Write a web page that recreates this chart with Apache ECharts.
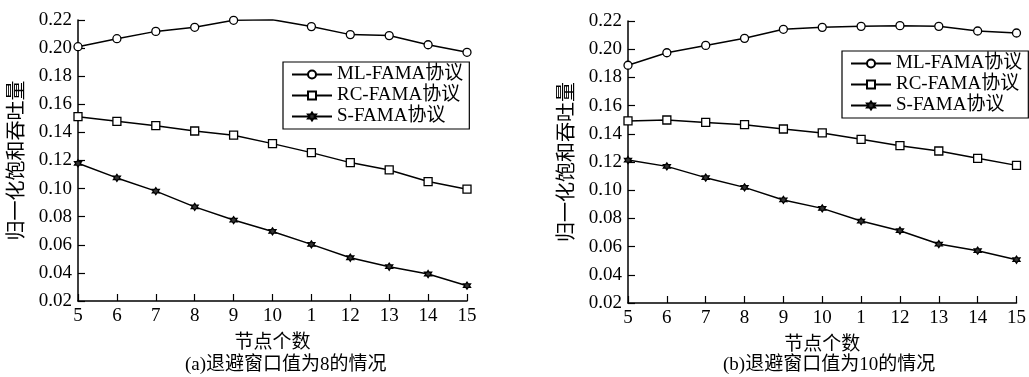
<!DOCTYPE html>
<html>
<head>
<meta charset="utf-8">
<script src="https://cdn.jsdelivr.net/npm/echarts@6/dist/echarts.min.js"></script>
<style>
  html, body { margin: 0; padding: 0; background: #fff; }
  #chart { width: 1029px; height: 377px; }
</style>
</head>
<body>
<div id="chart"></div>
<script>
// 横轴：节点个数（原图第 7 个刻度就印成了 "1"）
const nodeLabels = ['5', '6', '7', '8', '9', '10', '1', '12', '13', '14', '15'];
const yTicks = { min: 0.02, max: 0.22, step: 0.02 };

// (a) 退避窗口值为 8
const mlA = [0.201, 0.2067, 0.2119, 0.2148, 0.2198, 0.2202, 0.2153, 0.2096, 0.2089, 0.2024, 0.197];
const rcA = [0.1512, 0.1479, 0.1448, 0.141, 0.138, 0.132, 0.1256, 0.1185, 0.1133, 0.105, 0.0996];
const sA  = [0.118, 0.1076, 0.0982, 0.087, 0.0776, 0.0695, 0.0603, 0.0508, 0.0444, 0.0392, 0.0309];

// (b) 退避窗口值为 10
const mlB = [0.1886, 0.1975, 0.2027, 0.2077, 0.2141, 0.2155, 0.2162, 0.2167, 0.2162, 0.2129, 0.2115];
const rcB = [0.1491, 0.1498, 0.1481, 0.1465, 0.1434, 0.1406, 0.1361, 0.1316, 0.1278, 0.1226, 0.1176];
const sB  = [0.1214, 0.1169, 0.1089, 0.102, 0.0931, 0.0871, 0.0781, 0.0713, 0.0618, 0.0571, 0.0507];

const seriesNames = ['ML-FAMA协议', 'RC-FAMA协议', 'S-FAMA协议'];

const FONT = '"Liberation Serif", "Times New Roman", "Noto Sans CJK SC", serif';
// 六角星标记
const starPath = 'path://M0,-10 L2.9,-5 L8.7,-5 L5.8,0 L8.7,5 L2.9,5 L0,10 L-2.9,5 L-8.7,5 L-5.8,0 L-8.7,-5 L-2.9,-5 Z';

const mkX = (gridIndex) => ({
  type: 'category',
  gridIndex,
  data: nodeLabels,
  boundaryGap: false,
  name: '节点个数',
  nameLocation: 'middle',
  nameGap: 33,
  nameTextStyle: { fontFamily: FONT, fontSize: 19, color: '#000' },
  axisLine: { lineStyle: { color: '#000', width: 1.5 } },
  axisTick: { inside: true, length: 7, lineStyle: { color: '#000', width: 1.2 } },
  axisLabel: { fontFamily: FONT, fontSize: 19, color: '#000', margin: 6 },
  splitLine: { show: false }
});

const mkY = (gridIndex) => ({
  type: 'value',
  gridIndex,
  min: yTicks.min,
  max: yTicks.max,
  interval: yTicks.step,
  name: '归一化饱和吞吐量',
  nameLocation: 'middle',
  nameGap: 50,
  nameTextStyle: { fontFamily: FONT, fontSize: 20, color: '#000' },
  axisLine: { show: true, lineStyle: { color: '#000', width: 1.5 } },
  axisTick: { show: true, inside: true, length: 7, lineStyle: { color: '#000', width: 1.2 } },
  axisLabel: { fontFamily: FONT, fontSize: 19, color: '#000', margin: 6,
    formatter: v => v.toFixed(2) },
  splitLine: { show: false }
});

const mkLine = (name, data, idx, symbol, size, filled) => ({
  name,
  type: 'line',
  xAxisIndex: idx,
  yAxisIndex: idx,
  data,
  symbol,
  symbolSize: size,
  showAllSymbol: true,
  lineStyle: { color: '#000', width: 1.5 },
  itemStyle: { color: filled ? '#333' : '#fff', borderColor: '#000', borderWidth: 1.3 },
  emphasis: { disabled: true },
  animation: false
});

const legendStyle = {
  orient: 'vertical',
  data: seriesNames,
  itemWidth: 40,
  itemHeight: 10,
  itemGap: 2,
  padding: [3, 6, 3, 8],
  borderColor: '#000',
  borderWidth: 1.2,
  backgroundColor: '#fff',
  textStyle: { fontFamily: FONT, fontSize: 19, color: '#000' }
};

const chart = echarts.init(document.getElementById('chart'));
chart.setOption({
  backgroundColor: '#fff',
  animation: false,
  grid: [
    { left: 78, right: 562, top: 20, bottom: 76 },
    { left: 628, right: 9, top: 21, bottom: 74 }
  ],
  xAxis: [mkX(0), mkX(1)],
  yAxis: [mkY(0), mkY(1)],
  legend: [
    Object.assign({ left: 283, top: 62 }, legendStyle),
    Object.assign({ left: 842, top: 51 }, legendStyle)
  ],
  series: [
    mkLine(seriesNames[0], mlA, 0, 'circle', 8, false),
    mkLine(seriesNames[1], rcA, 0, 'rect', 8, false),
    mkLine(seriesNames[2], sA, 0, starPath, 7, true),
    mkLine(seriesNames[0], mlB, 1, 'circle', 8, false),
    mkLine(seriesNames[1], rcB, 1, 'rect', 8, false),
    mkLine(seriesNames[2], sB, 1, starPath, 7, true)
  ],
  graphic: [
    { type: 'text', left: 185, top: 356,
      style: { text: '(a)退避窗口值为8的情况', font: '19px ' + FONT, fill: '#000' } },
    { type: 'text', left: 723, top: 356,
      style: { text: '(b)退避窗口值为10的情况', font: '19px ' + FONT, fill: '#000' } }
  ]
});
</script>
</body>
</html>
